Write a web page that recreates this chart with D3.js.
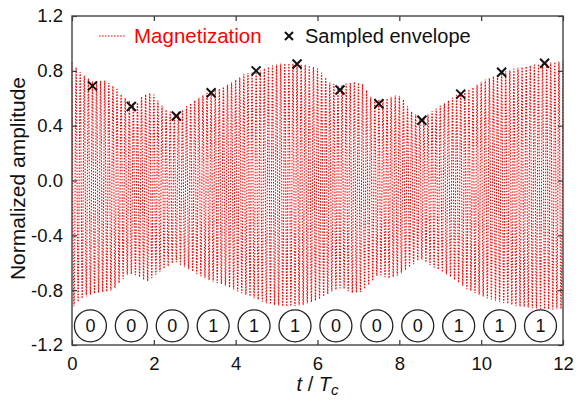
<!DOCTYPE html>
<html>
<head>
<meta charset="utf-8">
<script src="https://cdn.jsdelivr.net/npm/d3@7"></script>
<style>
  body { margin: 0; background: #fff; }
  svg { font-family: "Liberation Sans", Arial, Helvetica, sans-serif; }
</style>
</head>
<body>
<div id="main"></div>
<script>
// upper / lower envelope of the magnetization
const upperT = [0, 0.2, 0.32, 0.52, 0.8, 1.09, 1.25, 1.45, 1.58, 1.7, 1.87, 1.99, 2.15, 2.32, 2.5, 2.68, 2.89, 3.13, 3.37, 3.62, 3.86, 4.07, 4.23, 4.49, 4.72, 5.04, 5.29, 5.52, 5.78, 5.98, 6.15, 6.31, 6.53, 6.76, 6.92, 7.12, 7.29, 7.53, 7.73, 7.9, 8.06, 8.26, 8.55, 8.83, 9.16, 9.47, 9.81, 10.06, 10.5, 10.87, 11.52, 12];
const upperV = [0.86, 0.79, 0.76, 0.72, 0.73, 0.67, 0.61, 0.575, 0.56, 0.61, 0.64, 0.63, 0.56, 0.51, 0.49, 0.51, 0.56, 0.61, 0.65, 0.67, 0.71, 0.745, 0.78, 0.79, 0.82, 0.85, 0.855, 0.85, 0.84, 0.82, 0.77, 0.71, 0.69, 0.71, 0.72, 0.70, 0.61, 0.59, 0.60, 0.62, 0.61, 0.51, 0.45, 0.51, 0.575, 0.635, 0.68, 0.73, 0.785, 0.82, 0.855, 0.87];
const lowerT = [0, 0.2, 0.36, 0.6, 0.85, 1.01, 1.17, 1.38, 1.58, 1.83, 2.03, 2.27, 2.52, 2.76, 3.05, 3.37, 3.7, 4.07, 4.39, 4.8, 5.21, 5.62, 6.02, 6.35, 6.59, 6.84, 7.08, 7.33, 7.49, 7.73, 7.98, 8.26, 8.51, 8.83, 9.24, 9.65, 10.06, 10.46, 10.87, 11.28, 11.69, 12];
const lowerV = [-0.93, -0.87, -0.84, -0.82, -0.81, -0.80, -0.74, -0.68, -0.69, -0.74, -0.69, -0.64, -0.59, -0.63, -0.68, -0.73, -0.76, -0.81, -0.85, -0.90, -0.92, -0.91, -0.87, -0.81, -0.78, -0.82, -0.81, -0.74, -0.68, -0.715, -0.69, -0.63, -0.57, -0.63, -0.70, -0.79, -0.85, -0.885, -0.915, -0.93, -0.94, -0.935];
const cyclesPerTc = 10;

// sampled envelope (crosses)
const sampleT = [0.5, 1.45, 2.55, 3.4, 4.5, 5.5, 6.55, 7.5, 8.55, 9.5, 10.5, 11.55];
const sampleV = [0.69, 0.54, 0.47, 0.64, 0.80, 0.85, 0.66, 0.56, 0.44, 0.63, 0.79, 0.855];

// bits shown in circles
const bits = [0, 0, 0, 1, 1, 1, 0, 0, 0, 1, 1, 1];
const bitT = [0.45, 1.45, 2.45, 3.45, 4.45, 5.45, 6.45, 7.45, 8.45, 9.45, 10.45, 11.45];
const bitY = -1.06;

const xTicks = [0, 2, 4, 6, 8, 10, 12];
const yTicks = [-1.2, -0.8, -0.4, 0, 0.4, 0.8, 1.2];
const yTickLabels = ['-1.2', '-0.8', '-0.4', '0.0', '0.4', '0.8', '1.2'];

function main() {
  const width = 576;
  const height = 401;
  const left = 72;
  const right = 563;
  const top = 16;
  const bottom = 345;

  const svg = d3.select('#main').append('svg')
    .attr('width', width)
    .attr('height', height);

  const x = d3.scaleLinear().domain([0, 12]).range([left, right]);
  const y = d3.scaleLinear().domain([-1.2, 1.2]).range([bottom, top]);

  const up = d3.scaleLinear().domain(upperT).range(upperV);
  const lo = d3.scaleLinear().domain(lowerT).range(lowerV);

  // carrier peaks alternate between the two envelopes
  const nHalf = 12 * cyclesPerTc * 2;
  const peaks = d3.range(nHalf + 1).map(k => {
    const t = k * 12 / nHalf;
    return [t, k % 2 === 0 ? up(t) : lo(t)];
  });

  const line = d3.line()
    .x(d => x(d[0]))
    .y(d => y(d[1]))
    .curve(d3.curveMonotoneX);

  svg.append('path')
    .datum(peaks)
    .attr('d', line)
    .attr('fill', 'none')
    .attr('stroke', '#ff0000')
    .attr('stroke-width', 1.1)
    .attr('stroke-dasharray', '1.6,1.4');

  // axes, ticks pointing inward
  const fmtY = d => yTickLabels[yTicks.indexOf(d)];
  svg.append('g')
    .attr('transform', `translate(0,${bottom})`)
    .call(d3.axisBottom(x).tickValues(xTicks).tickSizeInner(-5).tickSizeOuter(0).tickPadding(12))
    .call(g => g.select('.domain').remove());
  svg.append('g')
    .attr('transform', `translate(0,${top})`)
    .call(d3.axisTop(x).tickValues(xTicks).tickSizeInner(-5).tickSizeOuter(0).tickFormat(''))
    .call(g => g.select('.domain').remove());
  svg.append('g')
    .attr('transform', `translate(${left},0)`)
    .call(d3.axisLeft(y).tickValues(yTicks).tickFormat(fmtY).tickSizeInner(-5).tickSizeOuter(0).tickPadding(9))
    .call(g => g.select('.domain').remove());
  svg.append('g')
    .attr('transform', `translate(${right},0)`)
    .call(d3.axisRight(y).tickValues(yTicks).tickSizeInner(-5).tickSizeOuter(0).tickFormat(''))
    .call(g => g.select('.domain').remove());

  svg.selectAll('.tick line').attr('stroke', '#333').attr('stroke-width', 1.2);
  svg.selectAll('.tick text')
    .attr('fill', '#111')
    .style('font-size', '18.5px')
    .style('font-family', '"Liberation Sans", Arial, sans-serif');

  svg.append('rect')
    .attr('x', left)
    .attr('y', top)
    .attr('width', right - left)
    .attr('height', bottom - top)
    .attr('fill', 'none')
    .attr('stroke', '#444')
    .attr('stroke-width', 1.4);

  // sampled envelope crosses
  const cross = (cx, cy, r) => `M${cx - r},${cy - r}L${cx + r},${cy + r}M${cx - r},${cy + r}L${cx + r},${cy - r}`;
  svg.append('g').selectAll('path')
    .data(sampleT)
    .enter()
    .append('path')
    .attr('d', (d, i) => cross(x(d), y(sampleV[i]), 4.5))
    .attr('stroke', '#111')
    .attr('stroke-width', 2);

  // bit circles
  const bitG = svg.append('g').selectAll('g')
    .data(bits)
    .enter()
    .append('g')
    .attr('transform', (d, i) => `translate(${x(bitT[i])},${y(bitY)})`);
  bitG.append('circle')
    .attr('r', 16)
    .attr('fill', 'none')
    .attr('stroke', '#222')
    .attr('stroke-width', 1.3);
  bitG.append('text')
    .attr('text-anchor', 'middle')
    .attr('dy', '0.36em')
    .style('font-size', '18px')
    .attr('fill', '#111')
    .text(d => d);

  // legend
  svg.append('line')
    .attr('x1', 99).attr('x2', 126)
    .attr('y1', 36).attr('y2', 36)
    .attr('stroke', '#ff0000')
    .attr('stroke-width', 1.1)
    .attr('stroke-dasharray', '1.6,1.4');
  svg.append('text')
    .attr('x', 134).attr('y', 43)
    .attr('fill', '#ff0000')
    .style('font-size', '20.5px')
    .text('Magnetization');
  svg.append('path')
    .attr('d', cross(289, 36, 4))
    .attr('stroke', '#111')
    .attr('stroke-width', 2);
  svg.append('text')
    .attr('x', 305).attr('y', 43)
    .attr('fill', '#111')
    .style('font-size', '20px')
    .text('Sampled envelope');

  // axis titles
  svg.append('text')
    .attr('transform', `translate(25,${(top + bottom) / 2 - 2}) rotate(-90)`)
    .attr('text-anchor', 'middle')
    .attr('fill', '#111')
    .style('font-size', '21px')
    .text('Normalized amplitude');

  const xt = svg.append('text')
    .attr('x', (left + right) / 2)
    .attr('y', 391)
    .attr('text-anchor', 'middle')
    .attr('fill', '#111')
    .style('font-size', '20px');
  xt.append('tspan').style('font-style', 'italic').text('t');
  xt.append('tspan').text(' / ');
  xt.append('tspan').style('font-style', 'italic').text('T');
  xt.append('tspan').style('font-style', 'italic').style('font-size', '15px').attr('dy', 4).text('c');
}

main();
</script>
</body>
</html>
